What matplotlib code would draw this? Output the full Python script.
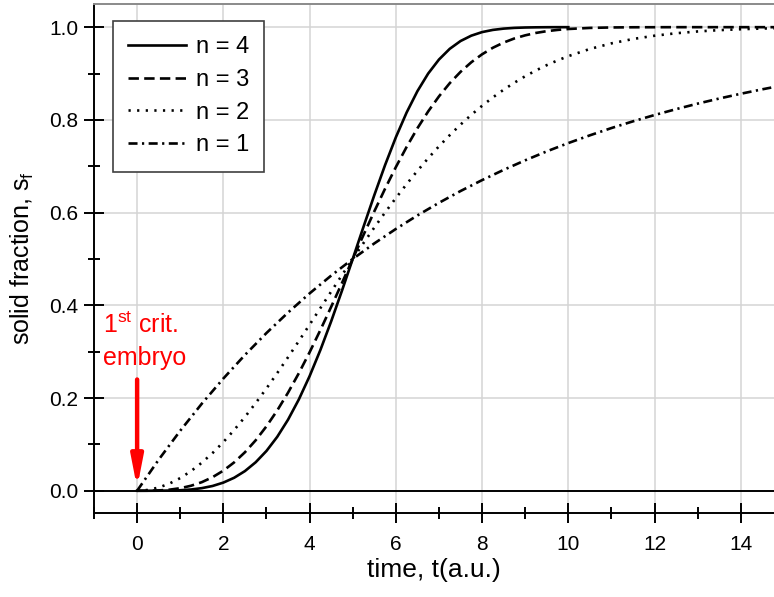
import matplotlib
matplotlib.use("Agg")
import matplotlib.pyplot as plt
from matplotlib.ticker import MultipleLocator

plt.rcParams['font.family'] = ['Liberation Sans', 'DejaVu Sans']
plt.rcParams['mathtext.fontset'] = 'custom'
plt.rcParams['mathtext.rm'] = 'Liberation Sans'
plt.rcParams['mathtext.it'] = 'Liberation Sans:italic'
plt.rcParams['lines.scale_dashes'] = False

# time axis (a.u.)
t_fine = [0, 0.25, 0.5, 0.75, 1, 1.25, 1.5, 1.75, 2, 2.25, 2.5, 2.75, 3, 3.25,
          3.5, 3.75, 4, 4.25, 4.5, 4.75, 5, 5.25, 5.5, 5.75, 6, 6.25, 6.5,
          6.75, 7, 7.25, 7.5, 7.75, 8, 8.25, 8.5, 8.75, 9, 9.25, 9.5, 9.75, 10]
t_tail = [10.5, 11, 11.5, 12, 12.5, 13, 13.5, 14, 14.5, 15]
t_half = [0, 0.5, 1, 1.5, 2, 2.5, 3, 3.5, 4, 4.5, 5, 5.5, 6, 6.5, 7, 7.5,
          8, 8.5, 9, 9.5, 10, 10.5, 11, 11.5, 12, 12.5, 13, 13.5, 14, 14.5, 15]

# solid fraction curves
s_n4 = [0.0, 0.0, 0.0001, 0.0004, 0.0011, 0.0027, 0.0056, 0.0103, 0.0176,
        0.0280, 0.0424, 0.0615, 0.0859, 0.1164, 0.1533, 0.1969, 0.2472,
        0.3036, 0.3654, 0.4314, 0.5, 0.5694, 0.6375, 0.7025, 0.7624, 0.8159,
        0.8619, 0.9000, 0.9302, 0.9533, 0.9701, 0.9817, 0.9894, 0.9941,
        0.9969, 0.9985, 0.9993, 0.9997, 0.9999, 1.0, 1.0]
s_n3 = [0.0, 0.0001, 0.0007, 0.0023, 0.0055, 0.0108, 0.0185, 0.0293, 0.0434,
        0.0612, 0.0830, 0.1089, 0.1391, 0.1733, 0.2116, 0.2535, 0.2987,
        0.3467, 0.3967, 0.4480, 0.5, 0.5518, 0.6025, 0.6515, 0.6981, 0.7417,
        0.7819, 0.8183, 0.8507, 0.8792, 0.9036, 0.9243, 0.9415, 0.9556,
        0.9668, 0.9757, 0.9824, 0.9876, 0.9914, 0.9941, 0.9961]
s_n3_tail = [0.9984, 0.9994, 0.9998, 0.9999, 1.0, 1.0, 1.0, 1.0, 1.0, 1.0]
s_n2 = [0.0, 0.0017, 0.0069, 0.0155, 0.0273, 0.0424, 0.0605, 0.0814, 0.1050,
        0.1310, 0.1591, 0.1892, 0.2208, 0.2539, 0.2880, 0.3229, 0.3583,
        0.3940, 0.4296, 0.4650, 0.5, 0.5343, 0.5677, 0.6002, 0.6314, 0.6614,
        0.6901, 0.7173, 0.7430, 0.7671, 0.7898, 0.8109, 0.8304, 0.8485,
        0.8651, 0.8803, 0.8942, 0.9067, 0.9181, 0.9283, 0.9375]
s_n2_tail = [0.9530, 0.9651, 0.9745, 0.9816, 0.9869, 0.9908, 0.9936, 0.9956,
             0.9971, 0.9981]
s_n1 = [0.0, 0.0670, 0.1295, 0.1878, 0.2421, 0.2929, 0.3403, 0.3844, 0.4257,
        0.4641, 0.5, 0.5335, 0.5647, 0.5939, 0.6211, 0.6465, 0.6701, 0.6922,
        0.7128, 0.7321, 0.75, 0.7667, 0.7824, 0.7969, 0.8105, 0.8232, 0.8351,
        0.8461, 0.8564, 0.8660, 0.875]

labels = ['n = 4', 'n = 3', 'n = 2', 'n = 1']
x_ticks = [0, 2, 4, 6, 8, 10, 12, 14]
y_ticks = [0.0, 0.2, 0.4, 0.6, 0.8, 1.0]

fig = plt.figure(figsize=(7.74, 5.97), dpi=100)
W, H = 774, 597
ax = fig.add_axes([94 / W, 84 / H, 680 / W, (593 - 84) / H])

ax.set_xlim(-1, 14.77)
ax.set_ylim(-0.048, 1.05)

for x in x_ticks:
    ax.axvline(x, color='#d4d4d4', lw=1.1, zorder=0)
for y in y_ticks:
    ax.axhline(y, color='#d4d4d4', lw=1.1, zorder=0)
ax.axhline(0, color='black', lw=1.4, zorder=1)

lw = 1.9
ax.plot(t_fine, s_n4, color='black', lw=lw, ls='-', label=labels[0], zorder=3)
ax.plot(t_fine + t_tail, s_n3 + s_n3_tail, color='black', lw=lw,
        ls=(0, (7.5, 3.8)), label=labels[1], zorder=3)
ax.plot(t_fine + t_tail, s_n2 + s_n2_tail, color='black', lw=lw,
        ls=(0, (1.6, 4.6)), label=labels[2], zorder=3)
ax.plot(t_half, s_n1, color='black', lw=lw, ls=(0, (6.5, 3.2, 1.6, 3.2)),
        label=labels[3], zorder=3)

ax.spines['right'].set_visible(False)
ax.spines['top'].set_color('#8a8a8a')
ax.spines['top'].set_linewidth(1.4)
ax.spines['left'].set_linewidth(1.4)
ax.spines['bottom'].set_linewidth(1.4)

ax.set_xticks(x_ticks)
ax.set_yticks(y_ticks)
ax.set_xticklabels([str(v) for v in x_ticks])
ax.set_yticklabels([f'{v:.1f}' for v in y_ticks])
ax.xaxis.set_minor_locator(MultipleLocator(1))
ax.yaxis.set_minor_locator(MultipleLocator(0.1))
ax.tick_params(axis='both', which='major', direction='inout', length=15, width=1.4,
               labelsize=15, top=False, right=False)
ax.tick_params(axis='both', which='minor', direction='inout', length=8, width=1.4,
               top=False, right=False)
ax.tick_params(axis='x', which='major', pad=8)
ax.tick_params(axis='y', which='major', pad=4)

ax.set_xlabel('time, t(a.u.)', fontsize=19, labelpad=3)
ax.set_ylabel(r'solid fraction, s$_\mathrm{f}$', fontsize=18, labelpad=9)

leg = ax.legend(loc='upper left', bbox_to_anchor=(113 / W, 1 - 21 / H),
                bbox_transform=fig.transFigure, borderaxespad=0, fontsize=17,
                handlelength=2.45, handletextpad=0.4, labelspacing=0.45,
                borderpad=0.65, fancybox=False, framealpha=1, edgecolor='#404040')
leg.get_frame().set_linewidth(1.2)

ax.annotate('', xy=(0, 0.006), xytext=(0, 0.24),
            arrowprops=dict(arrowstyle='-|>,head_length=18,head_width=3.5',
                            mutation_scale=1, color='#ff0000', lw=3.2,
                            shrinkA=0, shrinkB=0), zorder=5)
ax.text(-0.78, 0.34, r'1$^{\mathrm{st}}$ crit.', color='#ff0000', fontsize=18,
        ha='left', va='baseline')
ax.text(-0.78, 0.272, 'embryo', color='#ff0000', fontsize=18,
        ha='left', va='baseline')

fig.savefig('out.png', dpi=100)
